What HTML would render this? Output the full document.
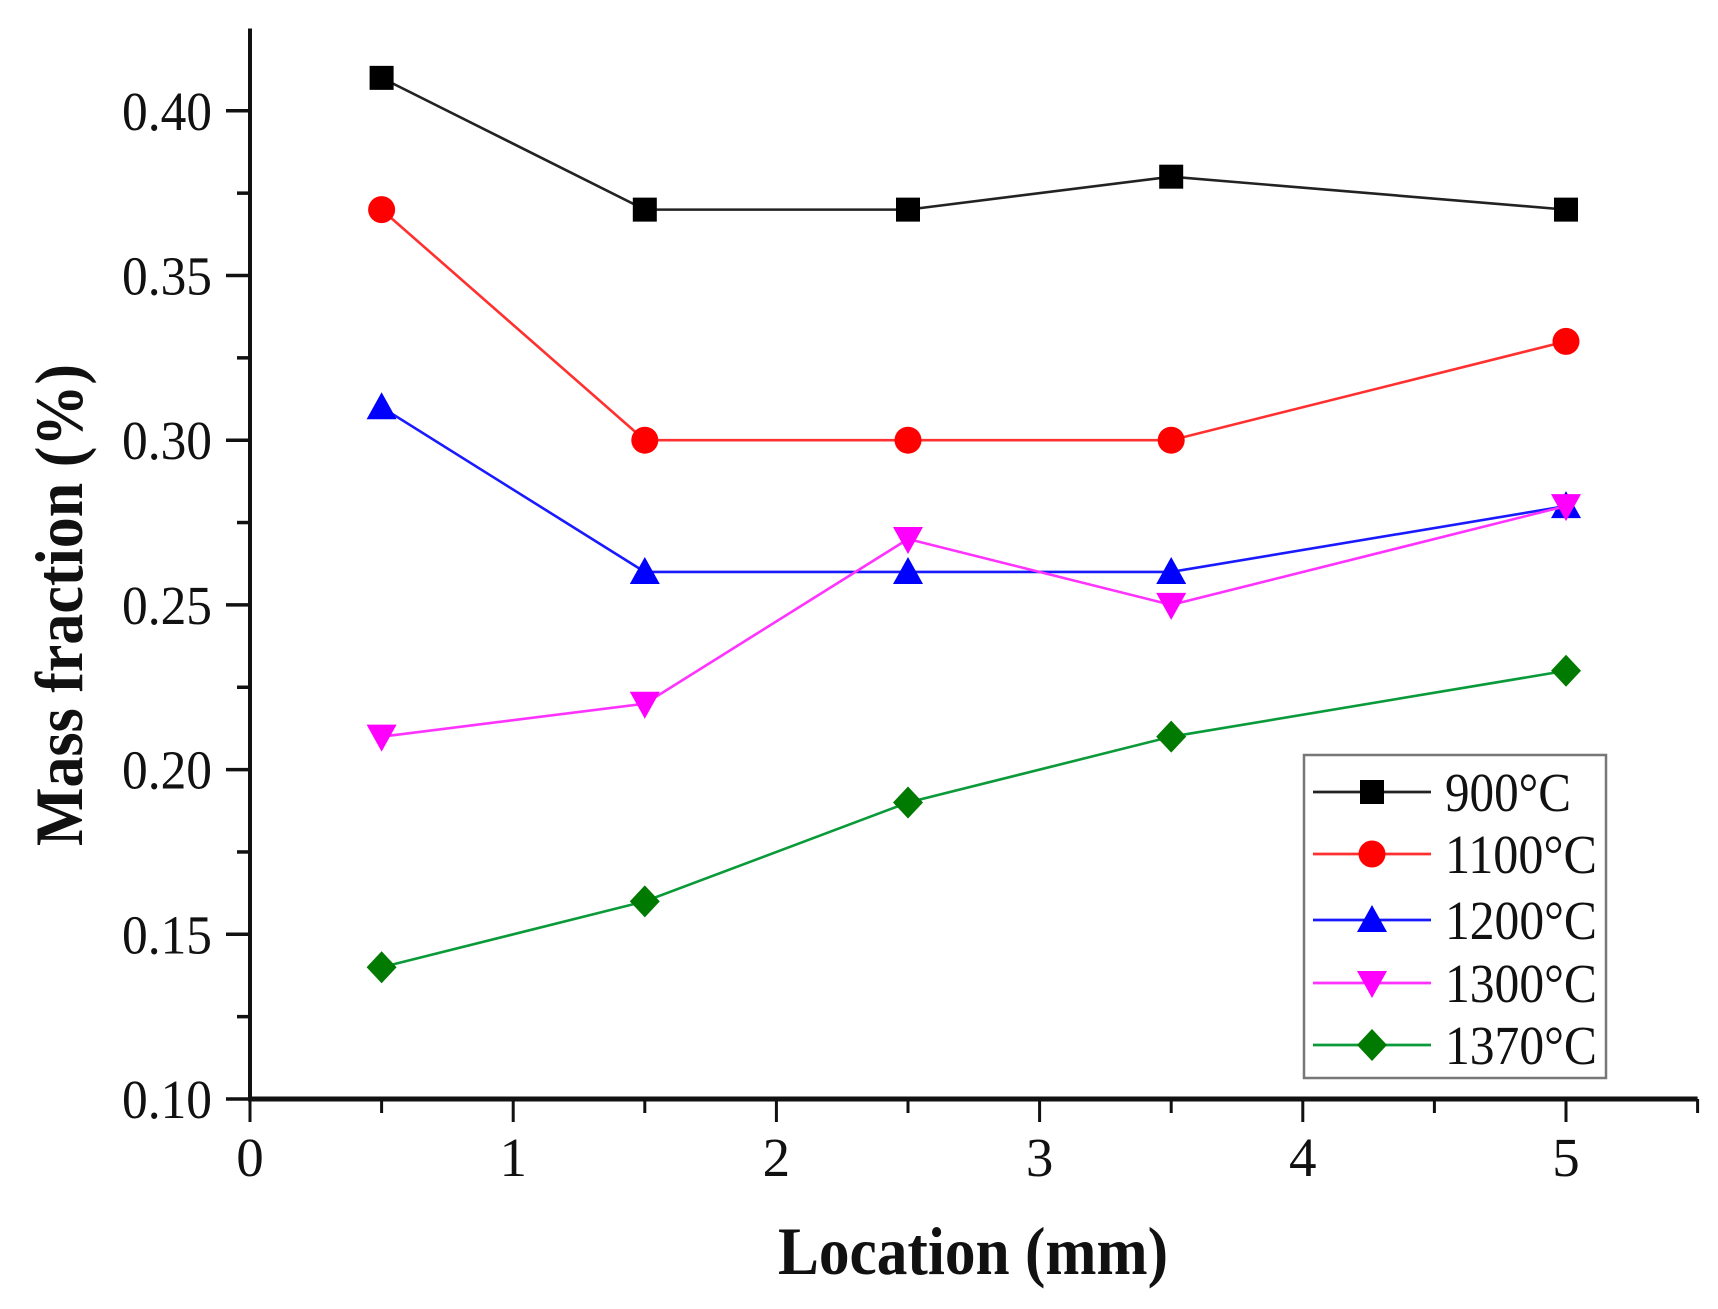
<!DOCTYPE html>
<html><head><meta charset="utf-8"><style>
html,body{margin:0;padding:0;background:#fff;}
svg{display:block;}
text{font-family:"Liberation Serif",serif;fill:#111;}
</style></head><body>
<svg id="chart" width="1718" height="1309" viewBox="0 0 1718 1309" xmlns="http://www.w3.org/2000/svg">
<g id="axes"></g>
<g id="series"></g>
<g id="legend"></g>
<text x="973" y="1274" font-size="68" font-weight="bold" text-anchor="middle" textLength="390" lengthAdjust="spacingAndGlyphs">Location (mm)</text>
<text transform="translate(82,605) rotate(-90)" font-size="68" font-weight="bold" text-anchor="middle" textLength="482" lengthAdjust="spacingAndGlyphs">Mass fraction (%)</text>
</svg>
<script>
const locations = [0.5, 1.5, 2.5, 3.5, 5];
const s900 = [0.41, 0.37, 0.37, 0.38, 0.37];
const s1100 = [0.37, 0.30, 0.30, 0.30, 0.33];
const s1200 = [0.31, 0.26, 0.26, 0.26, 0.28];
const s1300 = [0.21, 0.22, 0.27, 0.25, 0.28];
const s1370 = [0.14, 0.16, 0.19, 0.21, 0.23];
const seriesNames = ["900°C", "1100°C", "1200°C", "1300°C", "1370°C"];
const yTickLabels = ["0.10", "0.15", "0.20", "0.25", "0.30", "0.35", "0.40"];
const xTickLabels = ["0", "1", "2", "3", "4", "5"];

const NS = "http://www.w3.org/2000/svg";
const X0 = 250, XU = 263.2, Y0 = 1099, YU = 164.7 / 0.05;
const xs = v => X0 + v * XU;
const ys = v => Y0 - (v - 0.10) * YU;
function mk(parent, tag, attrs) {
  const e = document.createElementNS(NS, tag);
  for (const k in attrs) e.setAttribute(k, attrs[k]);
  parent.appendChild(e);
  return e;
}
const axes = document.getElementById("axes");
let e;
e = mk(axes, "line", {x1: X0, y1: ys(0.425), x2: X0, y2: Y0 + 2, stroke: "#111", "stroke-width": 4});


e = mk(axes, "line", {x1: X0 - 2, y1: Y0, x2: xs(5.5), y2: Y0, stroke: "#111", "stroke-width": 5});


for (let i = 0; i <= 12; i++) {
  const v = 0.10 + i * 0.025;
  const major = i % 2 === 0;
  e = mk(axes, "line", {x1: X0 - (major ? 24 : 13), y1: ys(v), x2: X0, y2: ys(v), stroke: "#111", "stroke-width": 3.5});
  
  
}
yTickLabels.forEach(l => {
  e = mk(axes, "text", {x: 212, y: ys(parseFloat(l)) + 19, "font-size": 55, "text-anchor": "end", textLength: 90, lengthAdjust: "spacingAndGlyphs"});
  e.textContent = l;
  
  
});
for (let i = 0; i <= 11; i++) {
  const v = i * 0.5;
  const major = i % 2 === 0;
  e = mk(axes, "line", {x1: xs(v), y1: Y0, x2: xs(v), y2: Y0 + (major ? 23 : 14), stroke: "#111", "stroke-width": 3});
  
  
}
xTickLabels.forEach(l => {
  e = mk(axes, "text", {x: xs(parseFloat(l)), y: 1176, "font-size": 55, "text-anchor": "middle"});
  e.textContent = l;
  
  
});

const allSeries = [s900, s1100, s1200, s1300, s1370];
const lineColors = ["#222", "#ff3030", "#1a1aff", "#ff33ff", "#0a9a3a"];
const markColors = ["#000", "#ff0000", "#0000ff", "#ff00ff", "#007a00"];
const shapes = ["square", "circle", "up", "down", "diamond"];
function marker(g, shape, cx, cy, col) {
  let m;
  if (shape === "square") m = mk(g, "rect", {x: cx - 12, y: cy - 12, width: 24, height: 24, fill: col});
  else if (shape === "circle") m = mk(g, "circle", {cx: cx, cy: cy, r: 13.5, fill: col});
  else if (shape === "up") m = mk(g, "polygon", {points: `${cx},${cy-15} ${cx+15},${cy+12} ${cx-15},${cy+12}`, fill: col});
  else if (shape === "down") m = mk(g, "polygon", {points: `${cx-15},${cy-12} ${cx+15},${cy-12} ${cx},${cy+15}`, fill: col});
  else m = mk(g, "polygon", {points: `${cx},${cy-16} ${cx+15},${cy} ${cx},${cy+16} ${cx-15},${cy}`, fill: col});
  return m;
}
const sg = document.getElementById("series");
allSeries.forEach((vals, si) => {
  const g = mk(sg, "g", {});
  
  
  const pts = vals.map((v, i) => xs(locations[i]) + "," + ys(v)).join(" ");
  e = mk(g, "polyline", {points: pts, fill: "none", stroke: lineColors[si], "stroke-width": 2.6});
  
  
  vals.forEach((v, i) => {
    e = marker(g, shapes[si], xs(locations[i]), ys(v), markColors[si]);
    
    
  });
});

const lg = document.getElementById("legend");
e = mk(lg, "rect", {x: 1304, y: 755, width: 302, height: 323, fill: "#fff", stroke: "#777", "stroke-width": 2.5});


const legendY = [792, 854, 920, 983, 1045];
seriesNames.forEach((n, si) => {
  const g = mk(lg, "g", {});
  
  
  const y = legendY[si];
  mk(g, "line", {x1: 1313, y1: y, x2: 1431, y2: y, stroke: lineColors[si], "stroke-width": 2.8});
  marker(g, shapes[si], 1372, y, markColors[si]);
  const t = mk(g, "text", {x: 1445, y: y + 19, "font-size": 55, textLength: si === 0 ? 126 : 152, lengthAdjust: "spacingAndGlyphs"});
  t.textContent = n;
});
</script>
</body></html>
